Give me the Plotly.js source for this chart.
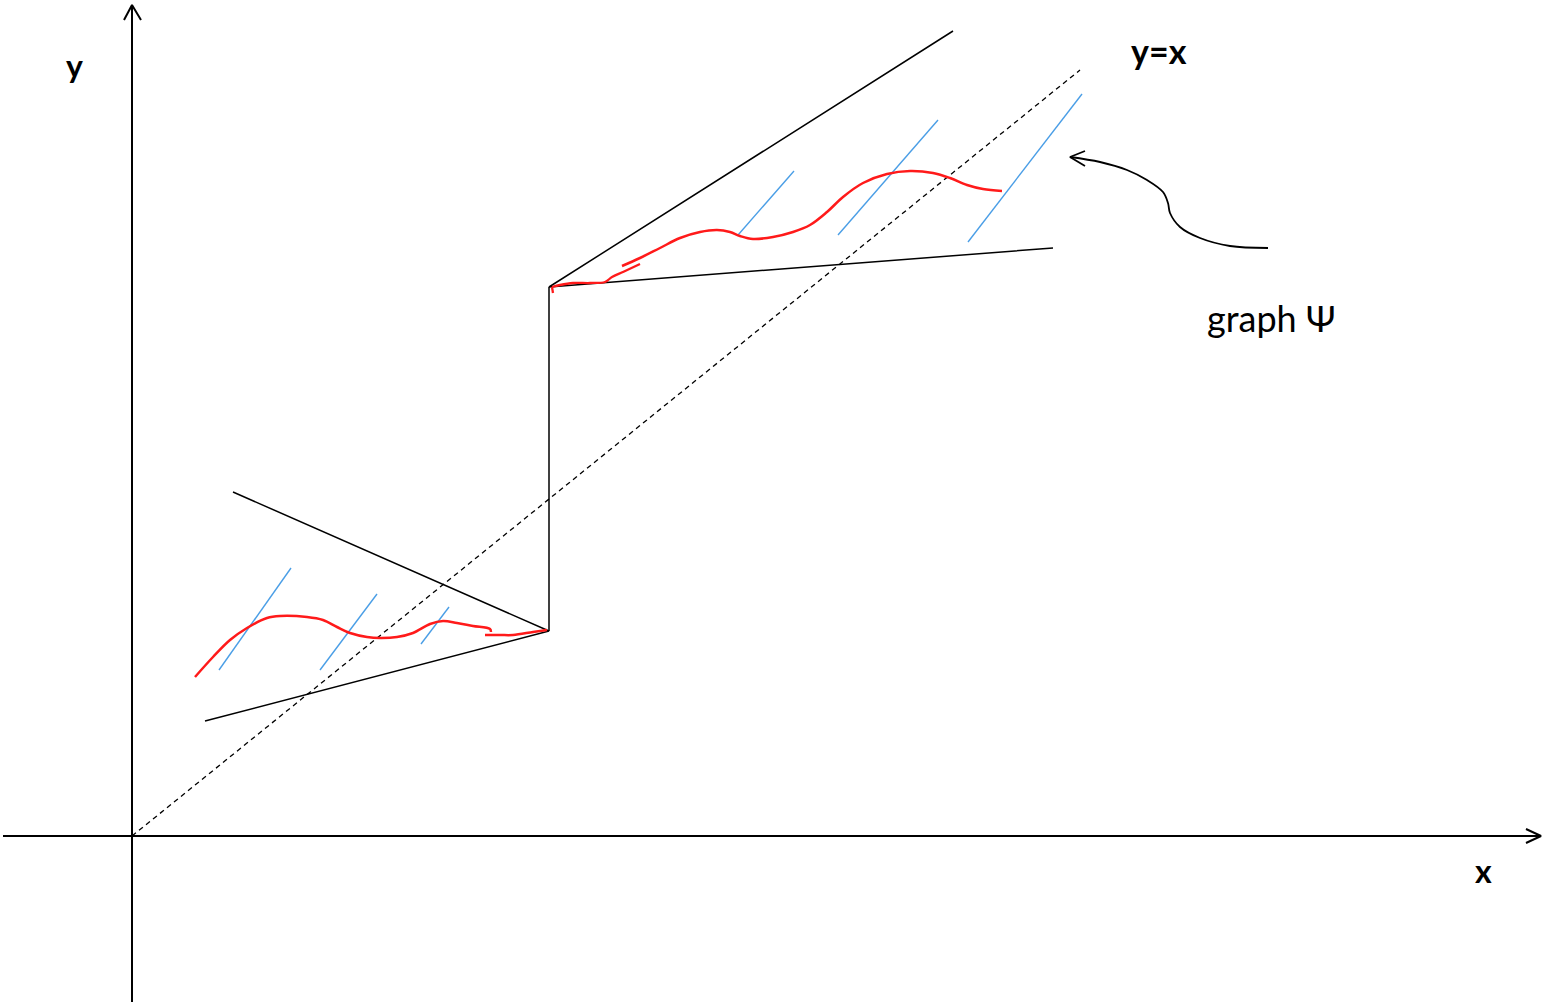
<!DOCTYPE html>
<html>
<head>
<meta charset="utf-8">
<script src="https://cdn.plot.ly/plotly-3.0.1.min.js"></script>
<style>html,body{margin:0;padding:0;background:#fff;}#chart{width:1543px;height:1005px;}</style>
</head>
<body>
<div id="chart"></div>
<script>
// Coordinate axes (data units, origin at the axes crossing)
const xAxisLineX = [-129, 1409];
const xAxisLineY = [0, 0];
const xArrowX = [1394, 1409, 1394];
const xArrowY = [7, 0, -7];
const yAxisLineX = [0, 0];
const yAxisLineY = [-166, 831];
const yArrowX = [-8, 0, 9];
const yArrowY = [816, 831, 816];

// Diagonal y = x (dashed)
const diagX = [0, 948];
const diagY = [0, 766];

// Black cone / jump lines (null separates pieces)
const coneX = [101, 417, 73, null, 417, 417, null, 821, 417, 921];
const coneY = [344, 205, 115, null, 205, 549, null, 805, 549, 588];

// Blue slope segments
const blueX = [87, 159, null, 188, 245, null, 289, 317, null, 606, 662, null, 706, 806, null, 836, 950];
const blueY = [166, 268, null, 166, 242, null, 192, 229, null, 601, 665, null, 601, 716, null, 594, 742];

// Red curve, lower part
const redLowAX = [63, 81, 98, 115, 135, 148, 175, 191, 205, 218, 235, 248, 265, 281, 298, 311, 325, 341, 358, 359];
const redLowAY = [159, 179, 196, 208, 218, 220, 219, 216, 209, 203, 199, 198, 199, 203, 212, 215, 213, 210, 207, 204];
const redLowBX = [353, 368, 381, 401, 415];
const redLowBY = [201, 201, 201, 204, 206];

// Red curve, upper part
const redUpAX = [420, 428, 441, 458, 473, 480, 491, 508];
const redUpAY = [549, 551, 553, 553, 554, 559, 564, 572];
const redStubX = [420, 421];
const redStubY = [549, 543];
const redUpBX = [490, 508, 528, 548, 568, 585, 598, 608, 621, 641, 661, 678, 695, 711, 731, 755, 778, 801, 818, 835, 851, 870];
const redUpBY = [570, 578, 588, 598, 604, 606, 604, 600, 597, 599, 604, 611, 624, 639, 653, 662, 665, 663, 658, 651, 647, 645];

// Curved pointer to the graph
const pointerX = [938, 968, 995, 1015, 1031, 1036, 1038, 1048, 1068, 1098, 1136];
const pointerY = [679, 674, 666, 656, 644, 633, 623, 609, 598, 590, 588];
const pointerHeadX = [953, 938, 953];
const pointerHeadY = [685, 679, 670];

// Labels
const labelText = ['y', 'x', 'y=x', 'graph Ψ'];
const labelX = [-58, 1351, 1027, 1139];
const labelY = [771, -34, 786, 518];
const labelBold = [true, true, true, false];
const labelSize = [32, 32, 34, 36];

const black = '#000000';
const red = '#ff1a1a';
const blue = '#4a9ee6';

function line(x, y, color, width, extra) {
  return Object.assign({x: x, y: y, type: 'scatter', mode: 'lines',
    line: {color: color, width: width}, hoverinfo: 'skip', showlegend: false, connectgaps: false}, extra || {});
}

const traces = [
  line(xAxisLineX, xAxisLineY, black, 2),
  line(xArrowX, xArrowY, black, 2),
  line(yAxisLineX, yAxisLineY, black, 2),
  line(yArrowX, yArrowY, black, 2),
  {x: diagX, y: diagY, type: 'scatter', mode: 'lines', line: {color: black, width: 1.3, dash: '5px,4px'}, hoverinfo: 'skip', showlegend: false},
  line(coneX, coneY, black, 1.5),
  line(blueX, blueY, blue, 1.4),
  {x: redLowAX, y: redLowAY, type: 'scatter', mode: 'lines', line: {color: red, width: 2.5, shape: 'spline'}, hoverinfo: 'skip', showlegend: false},
  {x: redLowBX, y: redLowBY, type: 'scatter', mode: 'lines', line: {color: red, width: 2.5, shape: 'spline'}, hoverinfo: 'skip', showlegend: false},
  {x: redUpAX, y: redUpAY, type: 'scatter', mode: 'lines', line: {color: red, width: 2.3, shape: 'spline'}, hoverinfo: 'skip', showlegend: false},
  line(redStubX, redStubY, red, 2.3),
  {x: redUpBX, y: redUpBY, type: 'scatter', mode: 'lines', line: {color: red, width: 2.5, shape: 'spline'}, hoverinfo: 'skip', showlegend: false},
  {x: pointerX, y: pointerY, type: 'scatter', mode: 'lines', line: {color: black, width: 1.8, shape: 'spline'}, hoverinfo: 'skip', showlegend: false},
  line(pointerHeadX, pointerHeadY, black, 1.8)
];

const annotations = labelText.map(function (t, i) {
  return {x: labelX[i], y: labelY[i], xref: 'x', yref: 'y', text: labelBold[i] ? '<b>' + t + '</b>' : t,
    showarrow: false, xanchor: 'center', yanchor: 'middle',
    font: {family: 'Lato, "Open Sans", sans-serif', size: labelSize[i], color: black}};
});

const layout = {
  width: 1543, height: 1005,
  margin: {l: 0, r: 0, t: 0, b: 0, pad: 0},
  paper_bgcolor: '#ffffff', plot_bgcolor: '#ffffff',
  xaxis: {range: [-132, 1411], visible: false, showgrid: false, zeroline: false, fixedrange: true},
  yaxis: {range: [-169, 836], visible: false, showgrid: false, zeroline: false, fixedrange: true},
  annotations: annotations,
  showlegend: false
};

Plotly.newPlot('chart', traces, layout, {displayModeBar: false, staticPlot: true});
</script>
</body>
</html>
